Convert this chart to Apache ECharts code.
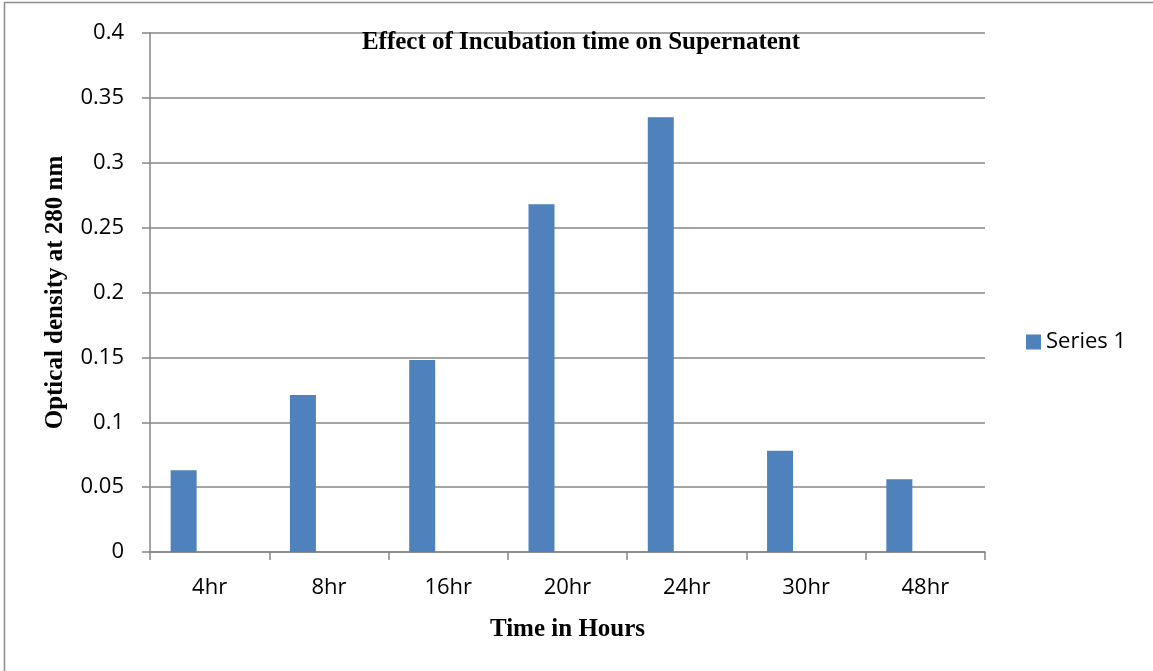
<!DOCTYPE html>
<html>
<head>
<meta charset="utf-8">
<script src="https://cdn.jsdelivr.net/npm/echarts@6/dist/echarts.min.js"></script>
<style>html,body{margin:0;padding:0;background:#fff}#c{width:1153px;height:671px}</style>
</head>
<body>
<div id="c"></div>
<script>
const categories = ['4hr', '8hr', '16hr', '20hr', '24hr', '30hr', '48hr'];
const series1 = [0.063, 0.121, 0.148, 0.268, 0.335, 0.078, 0.056];
const series2 = [null, null, null, null, null, null, null];
const series3 = [null, null, null, null, null, null, null];
const yTicks = { min: 0, max: 0.4, interval: 0.05 };

const chart = echarts.init(document.getElementById('c'), null, { renderer: 'canvas' });
const sans = 'Open Sans';
const serif = 'Liberation Serif';
chart.setOption({
  animation: false,
  backgroundColor: '#fff',
  graphic: [
    { type: 'rect', shape: { x: 4.5, y: 2.5, width: 1200, height: 700 }, style: { fill: 'none', stroke: '#8c8c8c', lineWidth: 1.5 }, silent: true }
  ],
  title: {
    text: 'Effect of Incubation time on Supernatent',
    left: 576, top: 25, textAlign: 'center',
    textStyle: { fontFamily: serif, fontWeight: 'bold', fontSize: 25, color: '#000' }
  },
  legend: {
    data: ['Series 1'],
    left: 1021, top: 326,
    itemWidth: 15, itemHeight: 15, itemGap: 5,
    icon: 'rect',
    textStyle: { fontFamily: sans, fontSize: 22, color: '#000' }
  },
  grid: { left: 150, top: 33, right: 168, bottom: 119, containLabel: false },
  xAxis: {
    type: 'category',
    data: categories,
    name: 'Time in Hours',
    nameLocation: 'middle',
    nameGap: 65,
    nameTextStyle: { fontFamily: serif, fontWeight: 'bold', fontSize: 25, color: '#000' },
    axisLine: { lineStyle: { color: '#868686', width: 1.5 } },
    axisTick: { show: true, length: 8, alignWithLabel: false, lineStyle: { color: '#868686', width: 1.5 } },
    axisLabel: { fontFamily: sans, fontSize: 22, color: '#000', margin: 25 },
    splitLine: { show: false }
  },
  yAxis: {
    type: 'value',
    min: yTicks.min, max: yTicks.max, interval: yTicks.interval,
    name: 'Optical density at 280 nm',
    nameLocation: 'middle',
    nameGap: 82,
    nameTextStyle: { fontFamily: serif, fontWeight: 'bold', fontSize: 25, color: '#000' },
    axisLine: { show: true, lineStyle: { color: '#868686', width: 1.5 } },
    axisTick: { show: true, length: 8, lineStyle: { color: '#868686', width: 1.5 } },
    axisLabel: { fontFamily: sans, fontSize: 22, color: '#000', margin: 26 },
    splitLine: { show: true, lineStyle: { color: '#868686', width: 1.5 } }
  },
  series: [
    { name: 'Series 1', type: 'bar', data: series1, barWidth: 26, barGap: '0%', itemStyle: { color: '#4f81bd' } },
    { name: 'Series 2', type: 'bar', data: series2, barWidth: 26, barGap: '0%', itemStyle: { color: '#c0504d' } },
    { name: 'Series 3', type: 'bar', data: series3, barWidth: 26, barGap: '0%', itemStyle: { color: '#9bbb59' } }
  ]
});
</script>
</body>
</html>
